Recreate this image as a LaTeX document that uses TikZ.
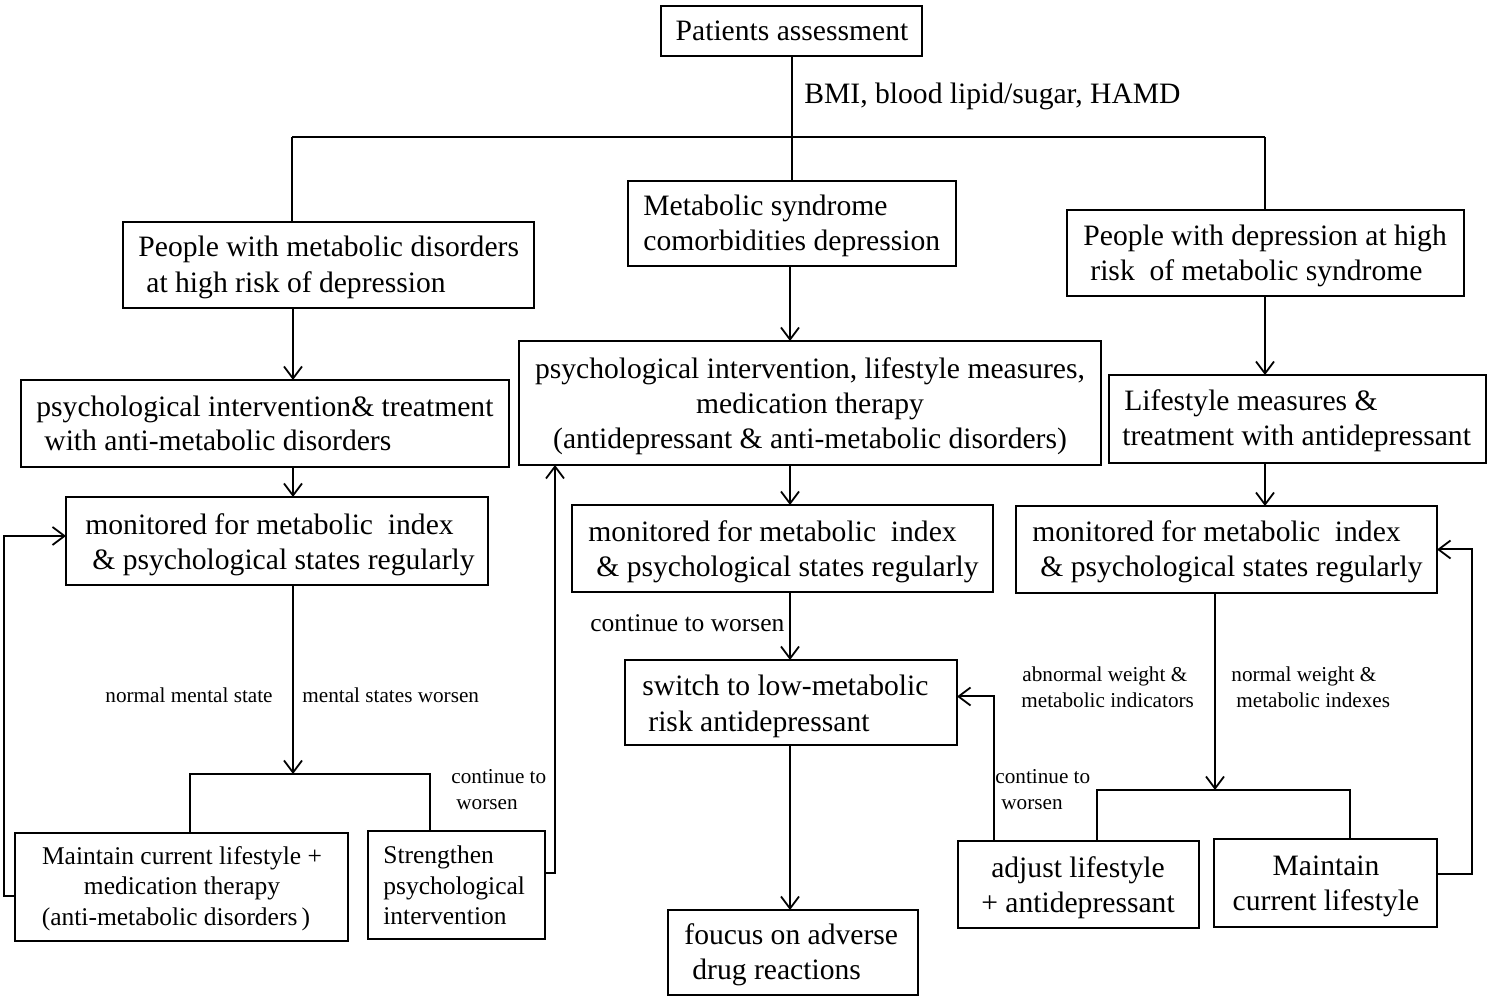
\documentclass[tikz,border=0pt]{standalone}
\usepackage{fontspec}
\setmainfont{Liberation Serif}
\usetikzlibrary{arrows.meta}
\newcommand{\fM}{\fontsize{14.8}{17.5}\selectfont}
\newcommand{\fD}{\fontsize{12.75}{15}\selectfont}
\newcommand{\fS}{\fontsize{10.6}{12.5}\selectfont}
\tikzset{
  bx/.style={draw, line width=1pt, inner sep=0pt, outer sep=0pt},
  tm/.style={inner sep=0pt, font=\fM, text height=10.4pt, text depth=3pt, yshift=-1.2pt},
  td/.style={inner sep=0pt, font=\fD, text height=8.9pt, text depth=2.55pt, yshift=-1pt},
  ts/.style={inner sep=0pt, font=\fS, text height=7.4pt, text depth=2.1pt, yshift=-0.8pt},
  ln/.style={line width=1pt},
  arr/.style={line width=1pt, -{Straight Barb[length=6pt,width=9pt,line width=0.9pt]}}
}
\begin{document}
\begin{tikzpicture}[x=0.5pt,y=-0.5pt]
\useasboundingbox (0,0) rectangle (1500,1004);
% boxes
\node[bx, minimum width=130.5pt, minimum height=25pt] (pa) at (791.5,31) {};
\node[bx, minimum width=205.5pt, minimum height=43pt] (b1) at (328.5,265) {};
\node[bx, minimum width=164pt, minimum height=42.5pt] (b2) at (792,223.5) {};
\node[bx, minimum width=198.5pt, minimum height=43pt] (b3) at (1265.5,253) {};
\node[bx, minimum width=244pt, minimum height=43.5pt] (b4) at (265,423.5) {};
\node[bx, minimum width=291pt, minimum height=62pt] (b5) at (810,403) {};
\node[bx, minimum width=188.5pt, minimum height=44pt] (b6) at (1297.5,419) {};
\node[bx, minimum width=211pt, minimum height=44pt] (b7) at (277,541) {};
\node[bx, minimum width=210.5pt, minimum height=43.5pt] (b8) at (782.5,548.5) {};
\node[bx, minimum width=210.5pt, minimum height=43.5pt] (b9) at (1226.5,549.5) {};
\node[bx, minimum width=166.5pt, minimum height=54pt] (b10) at (181.5,887) {};
\node[bx, minimum width=88.5pt, minimum height=54pt] (b11) at (456.5,885) {};
\node[bx, minimum width=166pt, minimum height=42.5pt] (b12) at (791,702.5) {};
\node[bx, minimum width=125pt, minimum height=42.5pt] (b13) at (793,952.5) {};
\node[bx, minimum width=120.5pt, minimum height=43.5pt] (b14) at (1078.5,884.5) {};
\node[bx, minimum width=111.5pt, minimum height=44pt] (b15) at (1325.5,883) {};
% texts
\node[tm] (tpa) at (792,31) {Patients assessment};
\node[tm, anchor=west] (tbmi) at (804,94) {BMI, blood lipid/sugar, HAMD};
\node[tm, anchor=west] (t1a) at (138,247) {People with metabolic disorders};
\node[tm, anchor=west] (t1b) at (146,283) {at high risk of depression};
\node[tm, anchor=west] (t2a) at (643,206) {Metabolic syndrome};
\node[tm, anchor=west] (t2b) at (643,241) {comorbidities depression};
\node[tm, anchor=west] (t3a) at (1083,236) {People with depression at high};
\node[tm, anchor=west] (t3b) at (1090,271) {risk\ \ of metabolic syndrome};
\node[tm, anchor=west] (t4a) at (36,407) {psychological intervention\& treatment};
\node[tm, anchor=west] (t4b) at (44,441) {with anti-metabolic disorders};
\node[tm] (t5a) at (810,369) {psychological intervention, lifestyle measures,};
\node[tm] (t5b) at (810,404) {medication therapy};
\node[tm] (t5c) at (810,439) {(antidepressant \& anti-metabolic disorders)};
\node[tm, anchor=west] (t6a) at (1124,401) {Lifestyle measures \&};
\node[tm, anchor=west] (t6b) at (1122,436) {treatment with antidepressant};
\node[tm, anchor=west] (t7a) at (85,525) {monitored for metabolic\ \ index};
\node[tm, anchor=west] (t7b) at (92,560) {\& psychological states regularly};
\node[tm, anchor=west] (t8a) at (588,532) {monitored for metabolic\ \ index};
\node[tm, anchor=west] (t8b) at (596,567) {\& psychological states regularly};
\node[tm, anchor=west] (t9a) at (1032,532) {monitored for metabolic\ \ index};
\node[tm, anchor=west] (t9b) at (1040,567) {\& psychological states regularly};
\node[td] (t10a) at (182,856) {Maintain current lifestyle +};
\node[td] (t10b) at (182,886) {medication therapy};
\node[td] (t10c) at (176,917) {(anti-metabolic disorders\,)};
\node[td, anchor=west] (t11a) at (383,855) {Strengthen};
\node[td, anchor=west] (t11b) at (383,886) {psychological};
\node[td, anchor=west] (t11c) at (383,916) {intervention};
\node[tm, anchor=west] (t12a) at (642,686) {switch to low-metabolic};
\node[tm, anchor=west] (t12b) at (648,722) {risk antidepressant};
\node[tm, anchor=west] (t13a) at (684,935) {foucus on adverse};
\node[tm, anchor=west] (t13b) at (692,970) {drug reactions};
\node[tm] (t14a) at (1078,868) {adjust lifestyle};
\node[tm] (t14b) at (1078,903) {+ antidepressant};
\node[tm] (t15a) at (1326,866) {Maintain};
\node[tm] (t15b) at (1326,901) {current lifestyle};
% small labels
\node[ts, anchor=east] (l1) at (273,696) {normal mental state};
\node[ts, anchor=west] (l2) at (302,696) {mental states worsen};
\node[ts, anchor=west] (l3a) at (451,777) {continue to};
\node[ts, anchor=west] (l3b) at (456,803) {worsen};
\node[td, anchor=west] (l4) at (590,623) {continue to worsen};
\node[ts, anchor=west] (l5a) at (1022,675) {abnormal weight \&};
\node[ts, anchor=west] (l5b) at (1021,701) {metabolic indicators};
\node[ts, anchor=west] (l6a) at (1231,675) {normal weight \&};
\node[ts, anchor=west] (l6b) at (1236,701) {metabolic indexes};
\node[ts, anchor=west] (l7a) at (995,777) {continue to};
\node[ts, anchor=west] (l7b) at (1001,803) {worsen};
% coordinates
\coordinate (xL) at (293,0);
\coordinate (xC) at (790,0);
\coordinate (xR) at (1265,0);
\coordinate (xR2) at (1215,0);
\coordinate (top) at (792,137);
\coordinate (topL) at (292,137);
\coordinate (topR) at (1265,137);
\coordinate (jL) at (293,774);
\coordinate (jLa) at (190,774);
\coordinate (jLb) at (430,774);
\coordinate (jR) at (1215,790);
\coordinate (jRa) at (1097,790);
\coordinate (jRb) at (1350,790);
\coordinate (fbL) at (4,0);
\coordinate (fbM) at (555,0);
\coordinate (fbR) at (1472,0);
\coordinate (fbC) at (994,0);
\coordinate (pL1) at ([yshift=-4.5pt]b10.west);
\coordinate (pL2) at ([yshift=2.5pt]b7.west);
\coordinate (pM1) at ([yshift=6pt]b11.east);
\coordinate (pR1) at ([yshift=4.5pt]b15.east);
\coordinate (pC1) at ([yshift=3pt]b12.east);
% connectors top
\draw[ln] (pa.south -| top) -- (b2.north -| top);
\draw[ln] (topL) -- (topR);
\draw[ln] (topL) -- (b1.north -| topL);
\draw[ln] (topR) -- (b3.north -| topR);
\draw[arr] (b1.south -| xL) -- (b4.north -| xL);
\draw[arr] (b2.south -| xC) -- (b5.north -| xC);
\draw[arr] (b3.south -| xR) -- (b6.north -| xR);
\draw[arr] (b4.south -| xL) -- (b7.north -| xL);
\draw[arr] (b5.south -| xC) -- (b8.north -| xC);
\draw[arr] (b6.south -| xR) -- (b9.north -| xR);
% left lower
\draw[arr] (b7.south -| xL) -- (jL);
\draw[ln] (b10.north -| jLa) |- (jLb) -- (b11.north -| jLb);
\draw[arr] (pL1) -- (pL1 -| fbL) -- (pL2 -| fbL) -- (pL2);
\draw[arr] (pM1) -- (pM1 -| fbM) -- (b5.south -| fbM);
% center lower
\draw[arr] (b8.south -| xC) -- (b12.north -| xC);
\draw[arr] (b12.south -| xC) -- (b13.north -| xC);
% right lower
\draw[arr] (b9.south -| xR2) -- (jR);
\draw[ln] (b14.north -| jRa) |- (jRb) -- (b15.north -| jRb);
\draw[arr] (b14.north -| fbC) |- (pC1);
\draw[arr] (pR1) -- (pR1 -| fbR) -- (b9.east -| fbR) -- (b9.east);
\end{tikzpicture}
\end{document}
